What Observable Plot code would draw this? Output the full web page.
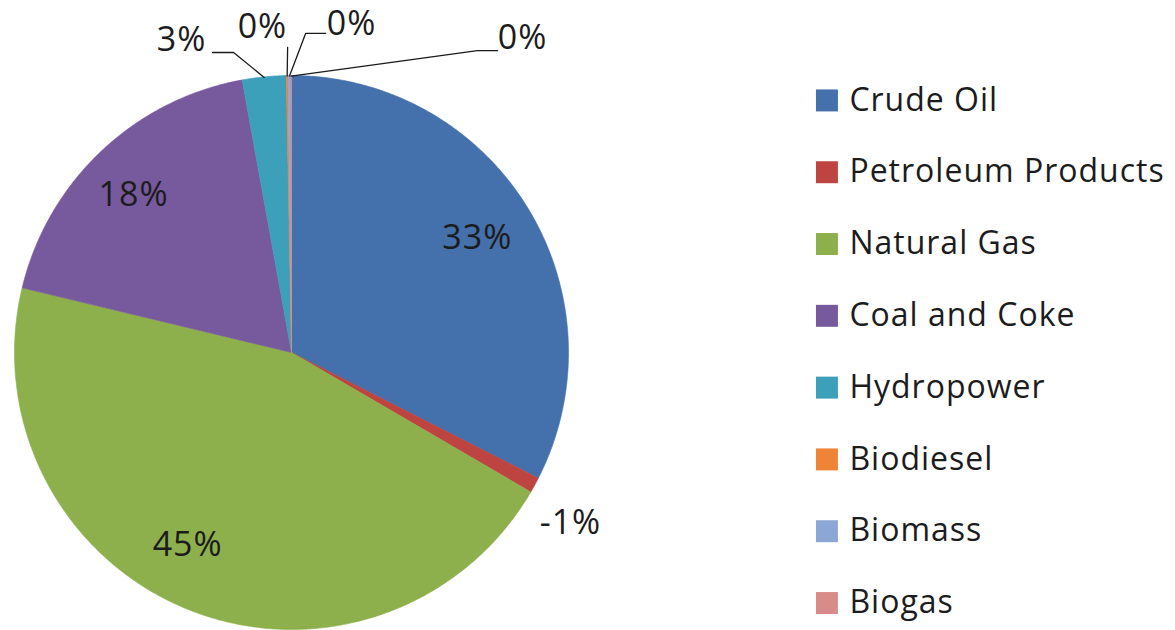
<!DOCTYPE html>
<html><head><meta charset="utf-8">
<script src="https://cdn.jsdelivr.net/npm/d3@7"></script>
<script src="https://cdn.jsdelivr.net/npm/@observablehq/plot@0.6"></script>
<style>
body{margin:0;background:#fff;}
#chart svg{display:block;}
#chart text{letter-spacing:1px;}
</style>
</head><body><div id="chart"></div>
<script>
// ---- data ----
const categories = ["Crude Oil", "Petroleum Products", "Natural Gas", "Coal and Coke", "Hydropower", "Biodiesel", "Biomass", "Biogas"];
const shares = [32.5, -0.9, 45.35, 18.4, 2.55, 0.1, 0.17, 0.03]; // percent
const colors = ["#4470AB", "#BE4441", "#8DB04C", "#77599E", "#3CA0BA", "#F08436", "#8CA7D6", "#D88C8A"];

// ---- layout (pie-radius units, centre = 0,0) ----
const labelPos = [[0.671, 0.412], [1.007, -0.617], [-0.375, -0.697], [-0.570, 0.567],
                  [-0.397, 1.126], [-0.105, 1.173], [0.217, 1.186], [0.834, 1.134]];
const leaderElbows = [null, null, null, null,
  [[-0.285, 1.083], [-0.209, 1.083]],
  [[-0.014, 1.101]],
  [[0.123, 1.152], [0.051, 1.152]],
  [[0.744, 1.090], [0.671, 1.090]]];

const data = categories.map((c, i) => ({category: c, share: shares[i], i}));
const arcs = d3.pie().sort(null).value(d => Math.abs(d.share))(data);

const slicePts = [];
arcs.forEach(p => {
  const c = p.data.category;
  const n = Math.max(2, Math.ceil((p.endAngle - p.startAngle) / (Math.PI / 360)));
  slicePts.push({category: c, x: 0, y: 0});
  for (let k = 0; k <= n; k++) {
    const a = p.startAngle + (p.endAngle - p.startAngle) * k / n;
    slicePts.push({category: c, x: Math.sin(a), y: Math.cos(a)});
  }
  slicePts.push({category: c, x: 0, y: 0});
});

const labels = arcs.map((p, i) => ({
  category: p.data.category,
  text: `${Math.round(p.data.share)}%`,
  x: labelPos[i][0], y: labelPos[i][1]
}));

const leaders = [];
arcs.forEach((p, i) => {
  if (!leaderElbows[i]) return;
  const mid = (p.startAngle + p.endAngle) / 2;
  leaderElbows[i].forEach(([x, y]) => leaders.push({category: p.data.category, x, y}));
  leaders.push({category: p.data.category, x: Math.sin(mid) * 0.998, y: Math.cos(mid) * 0.998});
});

const legend = data.map(d => ({category: d.category, x: 1.933, tx: 2.014, y: 0.910 - 0.2592 * d.i}));

const chart = Plot.plot({
  width: 1175,
  height: 630,
  margin: 0,
  style: {fontFamily: "'Open Sans', Lato, sans-serif", background: "#fff"},
  x: {domain: [-1, 1], range: [14, 568], axis: null},
  y: {domain: [-1, 1], range: [629, 75], axis: null},
  color: {domain: categories, range: colors},
  marks: [
    Plot.line(slicePts, {x: "x", y: "y", z: "category", fill: "category", stroke: "category", strokeWidth: 0.6, curve: "linear"}),
    Plot.line(leaders, {x: "x", y: "y", z: "category", stroke: "#1a1a1a", strokeWidth: 1.3}),
    Plot.text(labels, {x: "x", y: "y", text: "text", fontSize: 34, fill: "#1c1c1c", textAnchor: "middle", lineAnchor: "middle"}),
    Plot.dot(legend, {x: "x", y: "y", symbol: "square", r: 12.4, fill: "category"}),
    Plot.text(legend, {x: "tx", y: "y", text: "category", fontSize: 32, fill: "#1c1c1c", textAnchor: "start", lineAnchor: "middle"})
  ]
});
document.getElementById("chart").appendChild(chart);
</script>
</body></html>
